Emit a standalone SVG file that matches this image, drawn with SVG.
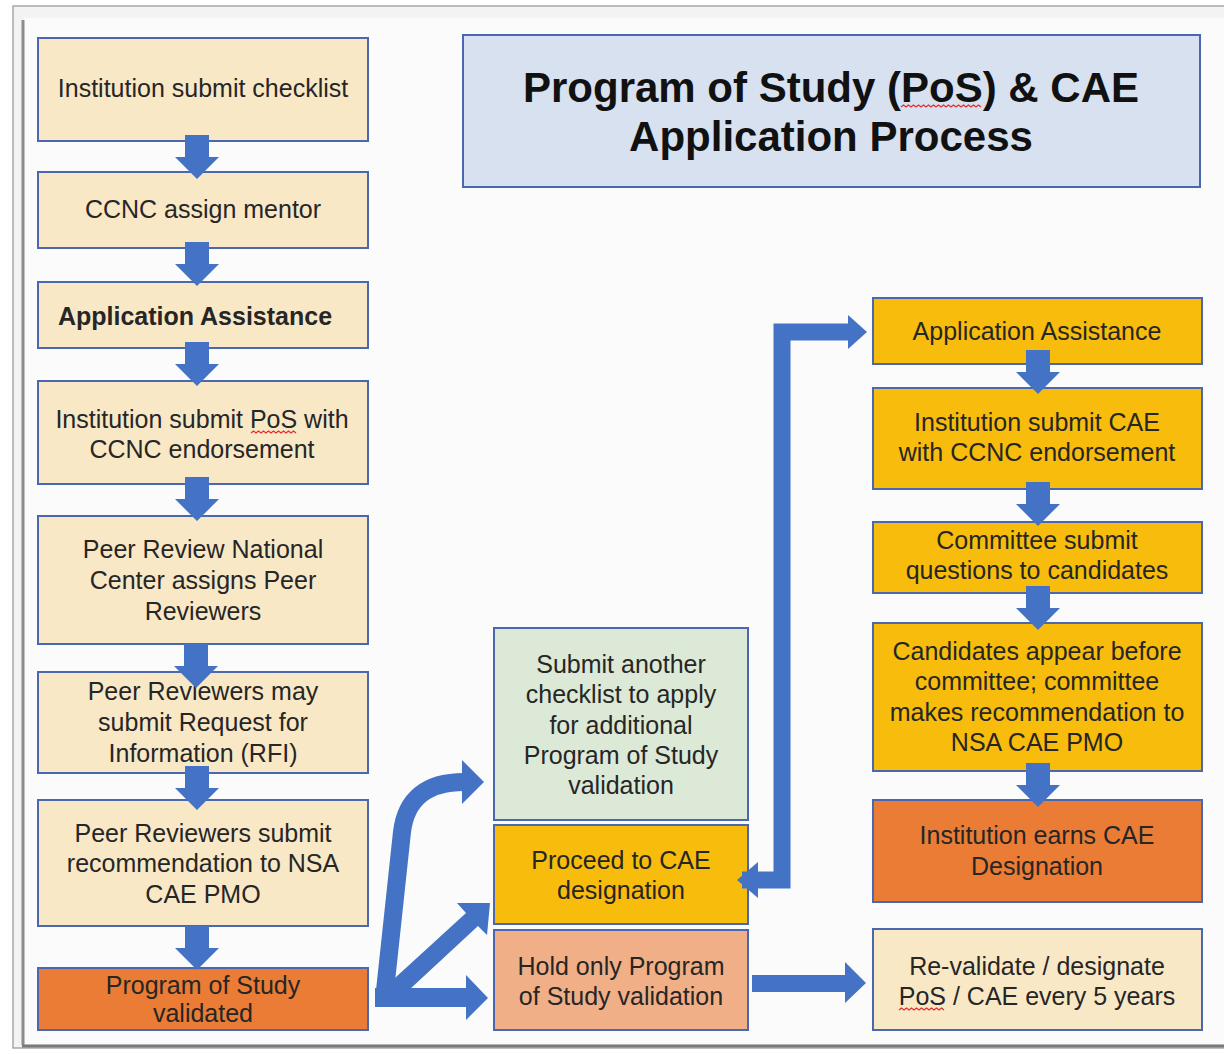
<svg xmlns="http://www.w3.org/2000/svg" width="1224" height="1054" viewBox="0 0 1224 1054">
<style>
.box{stroke:#4a67b0;stroke-width:2}
.cream{fill:#f9e8c6}
.amber{fill:#f8bc0c}
.orange{fill:#ea7c35}
.green{fill:#dce9d6}
.salmon{fill:#f1af88}
text{font-family:"Liberation Sans",Arial,sans-serif;font-size:25px;fill:#262626;text-anchor:middle}
.bold{font-weight:bold}
.title{font-size:42px;font-weight:bold;fill:#111}
.arrow{fill:#4472c4}
.squig{fill:none;stroke:#e03030;stroke-width:1.3}
</style>
<defs>
<path id="downArrow" class="arrow" d="M-12,0 H12 V22 H22 L0,44 L-22,22 H-12 Z"/>
</defs>
<rect x="0" y="0" width="1224" height="1054" fill="#ffffff"/>
<rect x="13" y="6" width="1230" height="1042" fill="#f3f3f3" stroke="#a8a8a8" stroke-width="1.5"/>
<rect x="24" y="18" width="1210" height="1026" fill="#fbfbfc"/>
<line x1="23" y1="20" x2="23" y2="1045" stroke="#8c8c8c" stroke-width="3"/>
<line x1="22" y1="1046" x2="1224" y2="1046" stroke="#7a7a7a" stroke-width="3"/>

<g id="title">
<rect class="box" x="463" y="35" width="737" height="152" fill="#d7e1f0" stroke="#5b6fb4"/>
<text class="title" x="831" y="102">Program of Study (PoS) &amp; CAE</text>
<text class="title" x="831" y="151">Application Process</text>
<path class="squig" d="M901,107 l2.5,-2 l2.5,2 l2.5,-2 l2.5,2 l2.5,-2 l2.5,2 l2.5,-2 l2.5,2 l2.5,-2 l2.5,2 l2.5,-2 l2.5,2 l2.5,-2 l2.5,2 l2.5,-2 l2.5,2 l2.5,-2 l2.5,2 l2.5,-2 l2.5,2 l2.5,-2 l2.5,2 l2.5,-2 l2.5,2 l2.5,-2 l2.5,2 l2.5,-2 l2.5,2 l2.5,-2 l2.5,2 l2.5,-2 l2.5,2"/>
</g>

<g id="n1"><rect class="box cream" x="38" y="38" width="330" height="103"/><text x="203" y="97">Institution submit checklist</text></g>
<g id="n2"><rect class="box cream" x="38" y="172" width="330" height="76"/><text x="203" y="218">CCNC assign mentor</text></g>
<g id="n3"><rect class="box cream" x="38" y="282" width="330" height="66"/><text class="bold" x="195" y="325">Application Assistance</text></g>
<g id="n4"><rect class="box cream" x="38" y="381" width="330" height="103"/><text x="202" y="428">Institution submit PoS with</text><text x="202" y="458">CCNC endorsement</text>
<path class="squig" d="M251,433 l2.5,-2 l2.5,2 l2.5,-2 l2.5,2 l2.5,-2 l2.5,2 l2.5,-2 l2.5,2 l2.5,-2 l2.5,2 l2.5,-2 l2.5,2 l2.5,-2 l2.5,2 l2.5,-2 l2.5,2 l2.5,-2 l2.5,2"/></g>
<g id="n5"><rect class="box cream" x="38" y="516" width="330" height="128"/><text x="203" y="558">Peer Review National</text><text x="203" y="589">Center assigns Peer</text><text x="203" y="620">Reviewers</text></g>
<g id="n6"><rect class="box cream" x="38" y="672" width="330" height="101"/><text x="203" y="700">Peer Reviewers may</text><text x="203" y="731">submit Request for</text><text x="203" y="762">Information (RFI)</text></g>
<g id="n7"><rect class="box cream" x="38" y="800" width="330" height="126"/><text x="203" y="842">Peer Reviewers submit</text><text x="203" y="872">recommendation to NSA</text><text x="203" y="903">CAE PMO</text></g>
<g id="n8"><rect class="box orange" x="38" y="968" width="330" height="62"/><text x="203" y="994">Program of Study</text><text x="203" y="1022">validated</text></g>

<g id="m1"><rect class="box green" x="494" y="628" width="254" height="192"/><text x="621" y="673">Submit another</text><text x="621" y="703">checklist to apply</text><text x="621" y="734">for additional</text><text x="621" y="764">Program of Study</text><text x="621" y="794">validation</text></g>
<g id="m2"><rect class="box amber" x="494" y="825" width="254" height="99"/><text x="621" y="869">Proceed to CAE</text><text x="621" y="899">designation</text></g>
<g id="m3"><rect class="box salmon" x="494" y="930" width="254" height="100"/><text x="621" y="975">Hold only Program</text><text x="621" y="1005">of Study validation</text></g>

<g id="r1"><rect class="box amber" x="873" y="298" width="329" height="66"/><text x="1037" y="340">Application Assistance</text></g>
<g id="r2"><rect class="box amber" x="873" y="388" width="329" height="101"/><text x="1037" y="431">Institution submit CAE</text><text x="1037" y="461">with CCNC endorsement</text></g>
<g id="r3"><rect class="box amber" x="873" y="522" width="329" height="71"/><text x="1037" y="549">Committee submit</text><text x="1037" y="579">questions to candidates</text></g>
<g id="r4"><rect class="box amber" x="873" y="623" width="329" height="148"/><text x="1037" y="660">Candidates appear before</text><text x="1037" y="690">committee; committee</text><text x="1037" y="721">makes recommendation to</text><text x="1037" y="751">NSA CAE PMO</text></g>
<g id="r5"><rect class="box orange" x="873" y="800" width="329" height="102"/><text x="1037" y="844">Institution earns CAE</text><text x="1037" y="875">Designation</text></g>
<g id="r6"><rect class="box cream" x="873" y="929" width="329" height="101"/><text x="1037" y="975">Re-validate / designate</text><text x="1037" y="1005">PoS / CAE every 5 years</text>
<path class="squig" d="M899,1010 l2.5,-2 l2.5,2 l2.5,-2 l2.5,2 l2.5,-2 l2.5,2 l2.5,-2 l2.5,2 l2.5,-2 l2.5,2 l2.5,-2 l2.5,2 l2.5,-2 l2.5,2 l2.5,-2 l2.5,2 l2.5,-2 l2.5,2"/></g>

<g id="connectors">
<use href="#downArrow" transform="translate(197,135)"/>
<use href="#downArrow" transform="translate(197,242)"/>
<use href="#downArrow" transform="translate(197,342)"/>
<use href="#downArrow" transform="translate(197,477)"/>
<use href="#downArrow" transform="translate(196,644)"/>
<use href="#downArrow" transform="translate(197,766)"/>
<use href="#downArrow" transform="translate(197,926)"/>

<use href="#downArrow" transform="translate(1038,350)"/>
<use href="#downArrow" transform="translate(1038,482)"/>
<use href="#downArrow" transform="translate(1038,586)"/>
<use href="#downArrow" transform="translate(1038,763)"/>

<path class="arrow" d="M752,975 H845 V962 L866,983 L845,1003 V992 H752 Z"/>

<path d="M742,880 H782 V332 H850" fill="none" stroke="#4472c4" stroke-width="17"/>
<path class="arrow" d="M848,315 L867,332 L848,349 Z"/>
<path class="arrow" d="M758,862 L737,880 L758,898 Z"/>

<path d="M384,1000 L402,832 Q408,782 464,782" fill="none" stroke="#4472c4" stroke-width="18"/>
<path class="arrow" d="M462,760 L484,782 L462,804 Z"/>
<path class="arrow" d="M396,1002 L478,926 L487,935 L490,903 L457,903 L466,913 L384,988 Z"/>
<path class="arrow" d="M375,988 H466 V975 L488,998 L466,1020 V1007 H375 Z"/>
</g>
</svg>
